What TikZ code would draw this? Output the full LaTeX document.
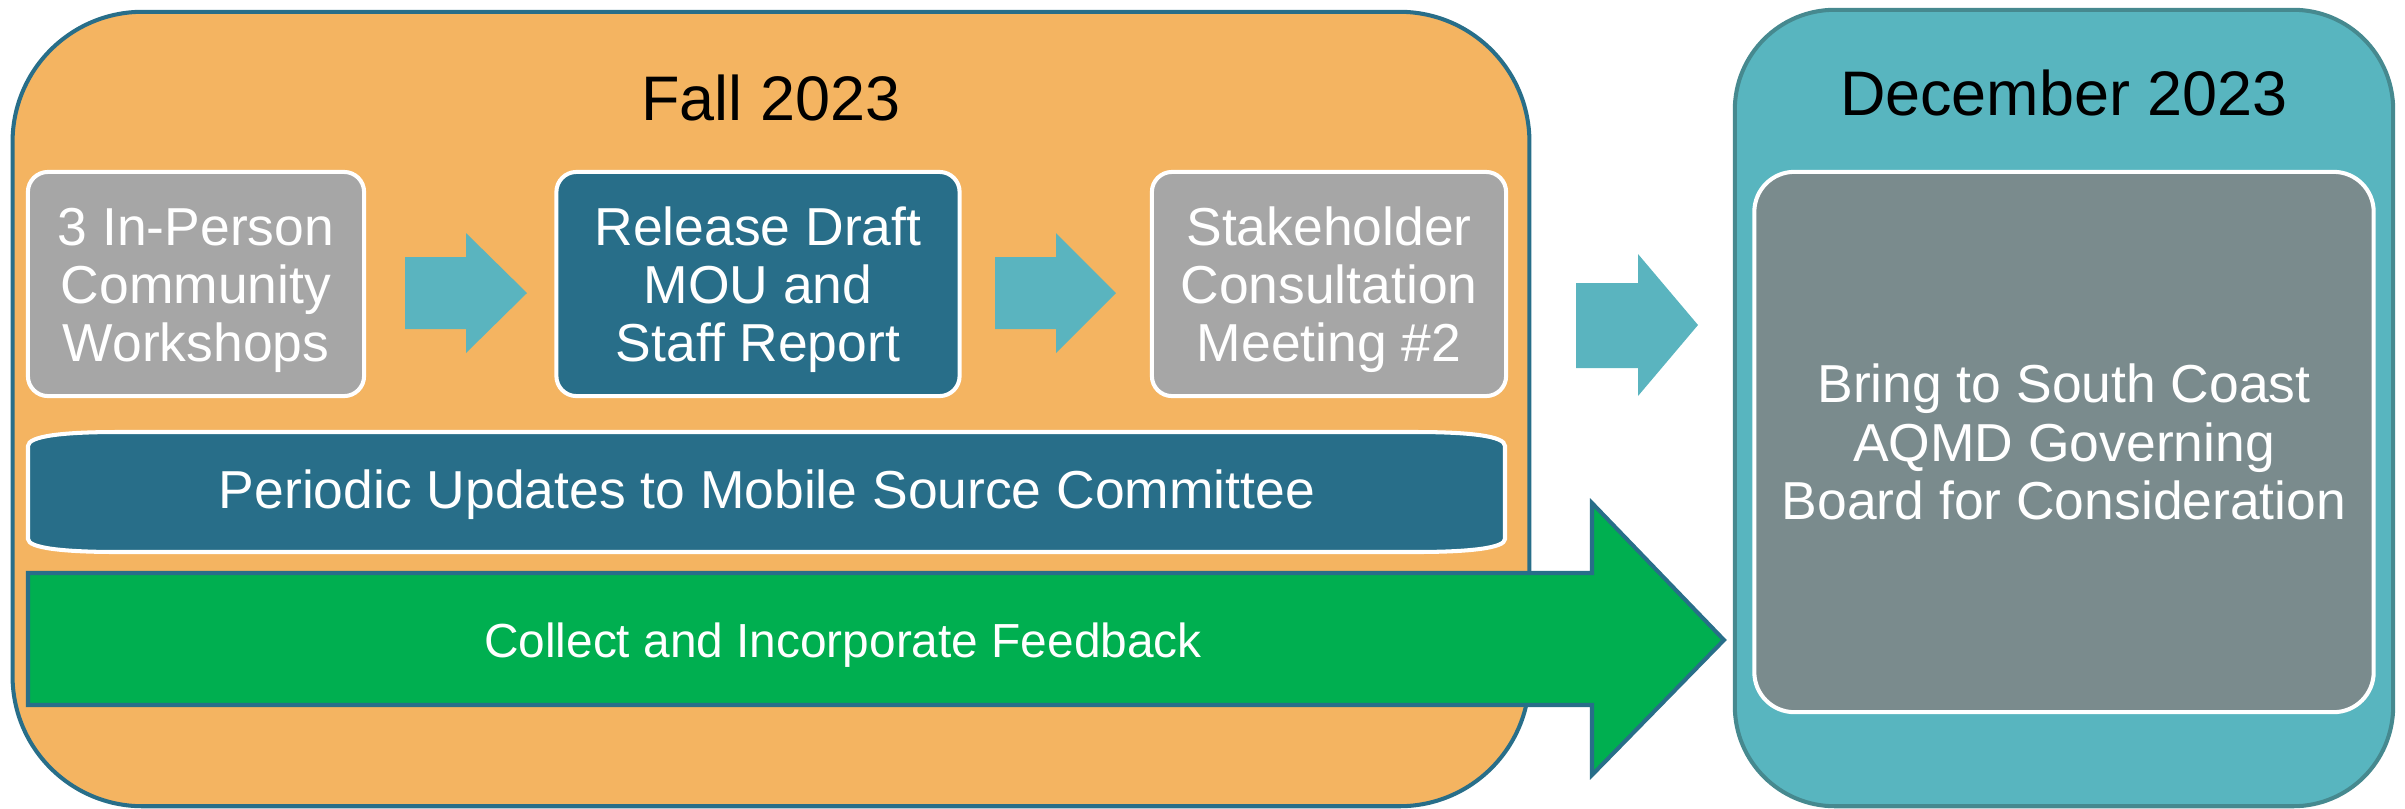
\documentclass[tikz,border=0pt]{standalone}
\usepackage{fontspec}
\setmainfont{Liberation Sans}
\definecolor{orangefill}{HTML}{F4B461}
\definecolor{darkteal}{HTML}{286E89}
\definecolor{grayfill}{HTML}{A6A6A6}
\definecolor{arrowteal}{HTML}{5AB4BF}
\definecolor{tealfill}{HTML}{58B5BF}
\definecolor{tealborder}{HTML}{46898F}
\definecolor{decgray}{HTML}{7A8B8D}
\definecolor{greenfill}{HTML}{00AF50}
\begin{document}
\begin{tikzpicture}[x=0.01cm,y=-0.01cm,
  panel/.style={line width=1.15pt,inner sep=0pt},
  stepbox/.style={draw=white,line width=1.15pt,rounded corners=0.2cm,inner sep=0pt,
    minimum height=2.24cm},
  steptext/.style={text=white,align=center,inner sep=0pt,font=\fontsize{15.2}{16.5}\selectfont},
  title/.style={anchor=base,text=black,font=\fontsize{17.9}{20}\selectfont},
  blockarrow/.style={fill=arrowteal,draw=none}]
\useasboundingbox (0,0) rectangle (2405,808);
% panels
\node[panel,draw=darkteal,fill=orangefill,rounded corners=1.3cm,
  minimum width=15.16cm,minimum height=7.94cm] (fall) at (771,409) {};
\node[panel,draw=tealborder,fill=tealfill,rounded corners=1.0cm,
  minimum width=6.58cm,minimum height=7.96cm] (dec) at (2064,408) {};
\node[title] (falltitle) at (771,120) {Fall 2023};
\node[title] (dectitle) at (2064,115) {December 2023};
% step boxes
\node[stepbox,fill=grayfill,minimum width=3.36cm] (ws) at (196,284) {};
\node[steptext] (wstext) at (196,290) {3 In-Person\\Community\\Workshops};
\node[stepbox,fill=darkteal,minimum width=4.03cm] (draft) at (758,284) {};
\node[steptext] (drafttext) at (758,290) {Release Draft\\MOU and\\Staff Report};
\node[stepbox,fill=grayfill,minimum width=3.54cm] (meet) at (1329,284) {};
\node[steptext] (meettext) at (1329,290) {Stakeholder\\Consultation\\Meeting \#2};
% december box
\node[stepbox,fill=decgray,rounded corners=0.4cm,minimum width=6.19cm,minimum height=5.40cm,
  text=white,align=center,font=\fontsize{15.2}{16.6}\selectfont] (board) at (2064,442)
  {Bring to South Coast\\AQMD Governing\\Board for Consideration};
% periodic bar
\draw[draw=white,line width=1.15pt,fill=darkteal]
  (118,432) -- (1415,432) .. controls (1470,432) and (1505,436) .. (1505,446)
  -- (1505,539) .. controls (1505,548) and (1470,552) .. (1415,552)
  -- (118,552) .. controls (63,552) and (28,548) .. (28,539)
  -- (28,446) .. controls (28,436) and (63,432) .. (118,432) -- cycle;
\node[anchor=base,text=white,font=\fontsize{15.2}{16.2}\selectfont] (periodic) at (767,508)
  {Periodic Updates to Mobile Source Committee};
% block arrows
\fill[blockarrow] (405,257) -- (466,257) -- (466,233) -- (527,293) -- (466,353) -- (466,329) -- (405,329) -- cycle;
\fill[blockarrow] (995,257) -- (1056,257) -- (1056,233) -- (1116,293) -- (1056,353) -- (1056,329) -- (995,329) -- cycle;
\fill[blockarrow] (1576,283) -- (1638,283) -- (1638,254) -- (1698,325) -- (1638,396) -- (1638,368) -- (1576,368) -- cycle;
% green arrow
\draw[draw=darkteal,line width=1.15pt,fill=greenfill,line join=miter]
  (28,573) -- (1592,573) -- (1592,503) -- (1724,640) -- (1592,775) -- (1592,705) -- (28,705) -- cycle;
\node[anchor=base,text=white,font=\fontsize{13.6}{15}\selectfont] (collect) at (843,657)
  {Collect and Incorporate Feedback};
\end{tikzpicture}
\end{document}
